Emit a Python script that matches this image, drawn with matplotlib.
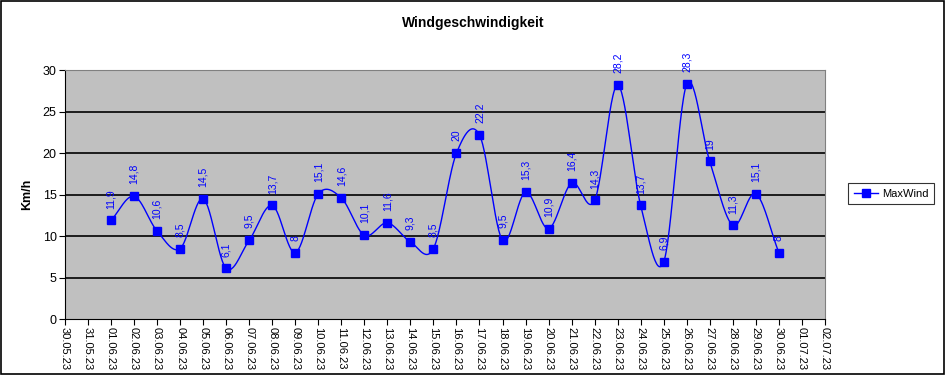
import matplotlib
matplotlib.use("Agg")
import matplotlib.pyplot as plt
import numpy as np
from matplotlib.patches import Rectangle

plt.rcParams['font.family'] = ['Liberation Sans', 'DejaVu Sans']

tick_labels = ["30.05.23", "31.05.23"] + [f"{d:02d}.06.23" for d in range(1, 31)] + ["01.07.23", "02.07.23"]
days = list(range(2, 32))  # 01.06 .. 30.06 as index from 30.05
values = [11.9, 14.8, 10.6, 8.5, 14.5, 6.1, 9.5, 13.7, 8, 15.1, 14.6, 10.1, 11.6, 9.3, 8.5,
          20, 22.2, 9.5, 15.3, 10.9, 16.4, 14.3, 28.2, 13.7, 6.9, 28.3, 19, 11.3, 15.1, 8]
yticks = [0, 5, 10, 15, 20, 25, 30]

def catmull_rom(x, y, n=30):
    x = np.asarray(x, float); y = np.asarray(y, float)
    px = np.concatenate([[2*x[0]-x[1]], x, [2*x[-1]-x[-2]]])
    py = np.concatenate([[2*y[0]-y[1]], y, [2*y[-1]-y[-2]]])
    xs, ys = [], []
    t = np.linspace(0, 1, n)
    for i in range(1, len(px)-2):
        p0, p1, p2, p3 = [np.array([px[j], py[j]]) for j in (i-1, i, i+1, i+2)]
        tt = t[:, None]
        pts = 0.5*((2*p1) + (-p0+p2)*tt + (2*p0-5*p1+4*p2-p3)*tt**2 + (-p0+3*p1-3*p2+p3)*tt**3)
        xs.extend(pts[:, 0]); ys.extend(pts[:, 1])
    return np.array(xs), np.array(ys)

fig = plt.figure(figsize=(9.46, 3.75), dpi=100)
fig.patches.append(Rectangle((0.001, 0.002), 0.997, 0.995, transform=fig.transFigure,
                             fill=False, edgecolor='black', linewidth=1.2))
ax = fig.add_axes([0.0687, 0.149, 0.8033, 0.664])
ax.set_facecolor('#C0C0C0')
ax.set_xlim(0, len(tick_labels)-1)
ax.set_ylim(0, 30)
ax.set_yticks(yticks)
ax.set_yticklabels([str(v) for v in yticks], fontsize=9)
ax.set_xticks(range(len(tick_labels)))
ax.set_xticklabels(tick_labels, rotation=-90, fontsize=8)
for yv in yticks[1:-1]:
    ax.axhline(yv, color='black', linewidth=1.2, zorder=1)
ax.spines['top'].set_color('#808080')
ax.spines['right'].set_color('#808080')
ax.spines['left'].set_color('black')
ax.spines['bottom'].set_color('black')
ax.tick_params(axis='both', length=4, width=0.8, color='black', direction='out', pad=2)

sx, sy = catmull_rom(days, values)
ax.plot(sx, sy, color='#0000FF', linewidth=1, zorder=3)
ax.plot(days, values, linestyle='none', marker='s', markersize=6, color='#0000FF', zorder=4)
line_proxy, = ax.plot([], [], color='#0000FF', linewidth=1, marker='s', markersize=6, label='MaxWind')

for d, v in zip(days, values):
    txt = f"{v:g}".replace('.', ',')
    ax.annotate(txt, (d, v), xytext=(0, 8.5), textcoords='offset points', rotation=90,
                ha='center', va='bottom', fontsize=7.5, color='#0000FF', zorder=5)

fig.text(0.5, 0.94, "Windgeschwindigkeit", ha='center', va='center', fontsize=10, fontweight='bold')
ax.set_ylabel("Km/h", fontsize=9, fontweight='bold', labelpad=7)

leg = fig.legend(handles=[line_proxy], loc='center', bbox_to_anchor=(0.942, 0.483),
                 fontsize=8, frameon=True, fancybox=False, handlelength=2.2,
                 borderpad=0.5, handletextpad=0.3)
leg.get_frame().set_edgecolor('black')
leg.get_frame().set_linewidth(0.8)

fig.savefig("out.png", dpi=100)
